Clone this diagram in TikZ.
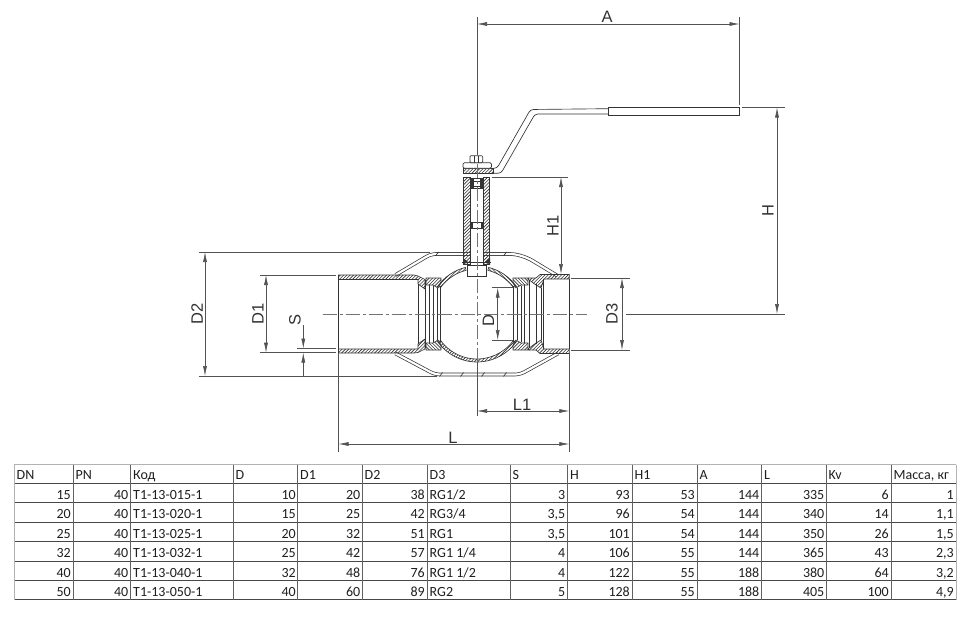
\documentclass[tikz,border=0pt]{standalone}
\usepackage{fontspec}
\setmainfont{Carlito}
\newfontfamily\dimfont{Liberation Sans}
\usetikzlibrary{arrows.meta}
\definecolor{ink}{gray}{0.2}
\tikzset{
  ln/.style={draw=ink,line width=.65pt},
  hl/.style={draw=ink,line width=.6pt},
  thin dim/.style={draw=ink!85,line width=.6pt},
  dimline/.style={thin dim,{Latex[length=10pt,width=4pt]}-{Latex[length=10pt,width=4pt]}},
  arrowend/.style={thin dim,-{Latex[length=10pt,width=4pt]}},
  axis/.style={draw=black!55,line width=.7pt,dash pattern=on 14pt off 3pt on 3pt off 3pt},
  dimlabel/.style={text=ink,font=\dimfont\fontsize{16.5}{17}\selectfont,inner sep=0pt},
  vlabel/.style={dimlabel,rotate=90},
  shell/.style={draw=ink,line width=.7pt,double=white,double distance=2.2pt,rounded corners=5pt},
  cell/.style={font=\fontsize{14}{14}\selectfont,text=black!88,inner sep=0pt,anchor=base east},
  lcell/.style={cell,anchor=base west},
  rule/.style={draw=black!72,line width=.8pt},
  vrule/.style={draw=black!62,line width=.8pt},
  softrule/.style={draw=black!30,line width=.8pt}
}
\newcommand\hatchG[1]{\begin{scope}\clip #1;
  \foreach \k in {490,493.3,...,950} \draw[hl] (\k-160,160) -- (\k-380,380);
  \end{scope}\draw[ln] #1;}
\newcommand\hatchL[1]{\begin{scope}\clip #1;
  \foreach \k in {-110,-106.7,...,110} \draw[hl] (\k+60,-60) -- (\k-60,60);
  \end{scope}\draw[ln] #1;}
\begin{document}
\begin{tikzpicture}[x=1pt,y=-1pt]
\useasboundingbox (0,0) rectangle (970,618);
\fill[white] (0,0) rectangle (970,618);

% ---------- outer shell
\draw[shell] (395.5,275) -- (431,254) -- (470,254);
\draw[shell] (484,254) -- (515,254) -- (528,258) -- (557,275.5);
\draw[shell] (395.5,353.5) -- (435,374.5) -- (520,374.5) -- (558,353.5);
\foreach \tx/\ty in {437/254,505/254,441/374.5,462/374.5,483/374.5,505/374.5}
  \draw[ln] (\tx-1.5,\ty+2) -- (\tx+1.5,\ty-2);

% ---------- left pipe
\fill[white] (338.5,279) rectangle (418,349);
\hatchG{(338.5,275) -- (414,275) -- (418,276) -- (425,279.5) -- (425,289) -- (418,284) -- (418,279.5) -- (338.5,279.5) -- cycle}
\hatchG{(338.5,349) -- (418,349) -- (418,344) -- (425,339) -- (425,349) -- (418,352.5) -- (414,353) -- (338.5,353) -- cycle}
\draw[ln] (338.5,279.5) -- (338.5,349);

% ---------- right pipe
\hatchG{(528.5,278) -- (536,278) -- (540,274.5) -- (569.3,274.5) -- (569.3,279) -- (544,279) -- (541,288) -- (536,285) -- (528.5,279.5) -- cycle}
\hatchG{(528.5,350) -- (536,350) -- (540,353.5) -- (569.3,353.5) -- (569.3,349) -- (544,349) -- (541,340) -- (536,343) -- (528.5,348.5) -- cycle}
\draw[ln] (569.3,279) -- (569.3,349);
\draw[ln,line width=1pt] (543.8,279) -- (543.8,349);
\draw[ln] (541,288) -- (541,340);

% ---------- seats: mirrored four ways about the axes
\foreach \sx in {1,-1}{
\foreach \sy in {1,-1}{
\begin{scope}[shift={(477,314)},xscale=\sx,yscale=\sy]
  \hatchL{(-51,-36) -- (-36,-36) -- (-36,-31) -- (-39,-26) -- (-44,-29) -- (-51,-29) -- cycle}
  \draw[ln] (-59,-30) -- (-59,30);
  \draw[ln] (-52,-34) -- (-52,34);
  \draw[ln,line width=1.5pt] (-47.5,-29) -- (-47.5,29);
  \draw[ln] (-44,-28) -- (-44,28);
  \draw[ln] (-40,-26) -- (-40,26);
  \draw[ln] (-36.5,-28) -- (-36.5,28);
\end{scope}}}

% ---------- ball
\foreach \sx in {1,-1}{
\begin{scope}[shift={(477,314)},xscale=\sx]
  \hatchL{(216:48) arc[start angle=216,end angle=256,radius=48]
     -- (256:45) arc[start angle=256,end angle=216,radius=45] -- cycle}
\end{scope}}
\begin{scope}[shift={(477,314)}]
  \hatchL{(144:48) arc[start angle=144,end angle=36,radius=48]
     -- (36:45) arc[start angle=36,end angle=144,radius=45] -- cycle}
\end{scope}

% ---------- neck and stem
\fill[white] (470,178) rectangle (484,276);
\hatchG{(463.7,177) rectangle (470,264)}
\hatchG{(483.7,177) rectangle (489.7,264)}
\draw[ln,fill=white] (467.3,265) rectangle (486,276);
\draw[ln] (462,262.5) -- (491,262.5);
\fill[ink] (463,258) -- (468,262) -- (463,264.5) -- cycle;
\fill[ink] (490,258) -- (485,262) -- (490,264.5) -- cycle;
\draw[ln] (470,178) -- (470,264) (483.7,178) -- (483.7,264);
% packings
\fill[ink] (470,178.5) rectangle (473.5,188);
\fill[ink] (480.3,178.5) rectangle (483.7,188);
\draw[ln] (473.5,181) -- (480.3,181) (473.5,186) -- (480.3,186);
\draw[ln] (470,178.5) -- (483.7,178.5) (470,188) -- (483.7,188);
\fill[ink] (470,222.7) rectangle (473,228.3);
\fill[ink] (481,222.7) rectangle (483.7,228.3);
\draw[ln] (470,222.7) -- (483.7,222.7) (470,228.3) -- (483.7,228.3);

% ---------- plate, washer, nut
\hatchG{(463.7,168.3) rectangle (493.7,173.3)}
\draw[ln,fill=white,rounded corners=1.5pt] (463,162.7) rectangle (491.5,168.3);
\draw[ln,fill=white,rounded corners=1pt] (470,155.7) rectangle (482.7,162.7);
\draw[ln] (474,155.7) -- (474,162.7) (478.7,155.7) -- (478.7,162.7);

% ---------- lever and grip
\draw[ln,rounded corners=3pt] (493.7,168.3) -- (497,168.3) -- (530.5,109.5) -- (608,108.7);
\draw[ln,rounded corners=3pt] (493.7,173.3) -- (501,173.3) -- (535,114) -- (608,114);

% ---------- axes
\draw[axis] (322.7,314) -- (586.7,314);
\draw[axis] (477,164) -- (477,362);
\draw[thin dim] (477,17) -- (477,155);
\draw[thin dim] (477,362) -- (477,416);

% ---------- named coordinates of the dimensions
\coordinate (Aa) at (477,24);      \coordinate (Ab) at (739.5,24);
\coordinate (Ha) at (777,107.5);   \coordinate (Hb) at (777,314);
\coordinate (Ga) at (561,177);     \coordinate (Gb) at (561,274);
\coordinate (Ea) at (622,278);     \coordinate (Eb) at (622,350);
\coordinate (La) at (338.5,444);   \coordinate (Lb) at (569.3,444);
\coordinate (Ka) at (477,411);     \coordinate (Kb) at (569.3,411);
\coordinate (Ba) at (205,252);     \coordinate (Bb) at (205,376);
\coordinate (Ca) at (266,275);     \coordinate (Cb) at (266,352.7);
\coordinate (Da) at (497.7,287.7); \coordinate (Db) at (497.7,340);
\coordinate (Sa) at (303.3,325);   \coordinate (Sb) at (303.3,348.5);
\coordinate (Sc) at (303.3,376);   \coordinate (Sd) at (303.3,352.7);

% extension lines
\draw[thin dim] (739.5,17) -- (739.5,105);
\draw[thin dim] (742,107.5) -- (785,107.5);
\draw[thin dim] (626,314) -- (785,314);
\draw[thin dim] (492,177) -- (568,177);
\draw[thin dim] (571,278) -- (630,278);
\draw[thin dim] (571,350) -- (630,350);
\draw[thin dim] (338.5,353) -- (338.5,452);
\draw[thin dim] (569.3,353.3) -- (569.3,452);
\draw[thin dim] (199,252) -- (430,252);
\draw[thin dim] (199,376) -- (437,376);
\draw[thin dim] (260,275) -- (336,275);
\draw[thin dim] (260,352.7) -- (336,352.7);
\draw[thin dim] (297,348.5) -- (336,348.5);
\draw[thin dim] (491.7,287.7) -- (513,287.7);
\draw[thin dim] (491.7,340) -- (513,340);

% dimension lines
\draw[dimline] (Aa) -- (Ab);
\draw[dimline] (Ha) -- (Hb);
\draw[dimline] (Ga) -- (Gb);
\draw[dimline] (Ea) -- (Eb);
\draw[dimline] (La) -- (Lb);
\draw[dimline] (Ka) -- (Kb);
\draw[dimline] (Ba) -- (Bb);
\draw[dimline] (Ca) -- (Cb);
\draw[dimline] (Da) -- (Db);
\draw[arrowend] (Sa) -- (Sb);
\draw[arrowend] (Sc) -- (Sd);

% labels
\node[dimlabel] (lA) at (607,17) {A};
\node[vlabel] (lH) at (768,211) {H};
\node[vlabel] (lHo) at (553,226) {H1};
\node[vlabel] (lDt) at (612,314) {D3};
\node[dimlabel] (lL) at (453,438) {L};
\node[dimlabel] (lLo) at (522,405) {L1};
\node[vlabel] (lDb) at (197,314) {D2};
\node[vlabel] (lDo) at (258,314) {D1};
\node[vlabel] (lS) at (295,320) {S};
\node[vlabel] (lD) at (488.5,320.5) {D};

% ---------- table
\foreach \yy [count=\i] in {483.3,502.7,522.3,541.7,561.3,580.7,599.7}
  \draw[rule] (14.3,\yy) -- (956,\yy);
\draw[softrule] (14.3,464.5) -- (956,464.5);
\draw[softrule] (14.3,464.5) -- (14.3,599.7);
\draw[softrule] (956,464.5) -- (956,599.7);
\foreach \xx in {73,130.3,233.3,297.7,362.3,427,510.3,567.7,632,697,761.7,826.3,891}
  \draw[vrule] (\xx,464.5) -- (\xx,599.7);
\def\colL{{0,16.5,75.5,133,235.5,300,364.5,429.5,512.5,570,634.5,699.5,764,828.5,893.5}}
\def\colR{{0,71,128.5,231,296,360.5,425,508.5,565.5,630,695,759.5,824.5,889,954}}
\foreach \v [count=\c] in {DN,PN,Код,D,D1,D2,D3,S,H,H1,A,L,Kv,{Масса, кг}}{
  \pgfmathsetmacro\px{\colL[\c]}
  \node[lcell] (h\c) at (\px,479) {\v};
}
\foreach \row/\by [count=\r] in {
 {15,40,T1-13-015-1,10,20,38,RG1/2,3,93,53,144,335,6,1}/499,
 {20,40,T1-13-020-1,15,25,42,RG3/4,{3,5},96,54,144,340,14,{1,1}}/518.5,
 {25,40,T1-13-025-1,20,32,51,RG1,{3,5},101,54,144,350,26,{1,5}}/538,
 {32,40,T1-13-032-1,25,42,57,RG1 1/4,4,106,55,144,365,43,{2,3}}/557.5,
 {40,40,T1-13-040-1,32,48,76,RG1 1/2,4,122,55,188,380,64,{3,2}}/577,
 {50,40,T1-13-050-1,40,60,89,RG2,5,128,55,188,405,100,{4,9}}/596}{
  \foreach \v [count=\c] in \row {
    \ifnum\c=3 \pgfmathsetmacro\px{\colL[\c]}\node[lcell] (t\r-\c) at (\px,\by) {\v};
    \else\ifnum\c=7 \pgfmathsetmacro\px{\colL[\c]}\node[lcell] (t\r-\c) at (\px,\by) {\v};
    \else \pgfmathsetmacro\px{\colR[\c]}\node[cell] (t\r-\c) at (\px,\by) {\v};
    \fi\fi
  }
}
% grip, drawn last
\fill[white] (608,107.5) rectangle (739.5,115.3);
\draw[ln] (608,107.5) -- (739.5,107.5) -- (739.5,115.3) -- (608,115.3) -- cycle;
\end{tikzpicture}
\end{document}
